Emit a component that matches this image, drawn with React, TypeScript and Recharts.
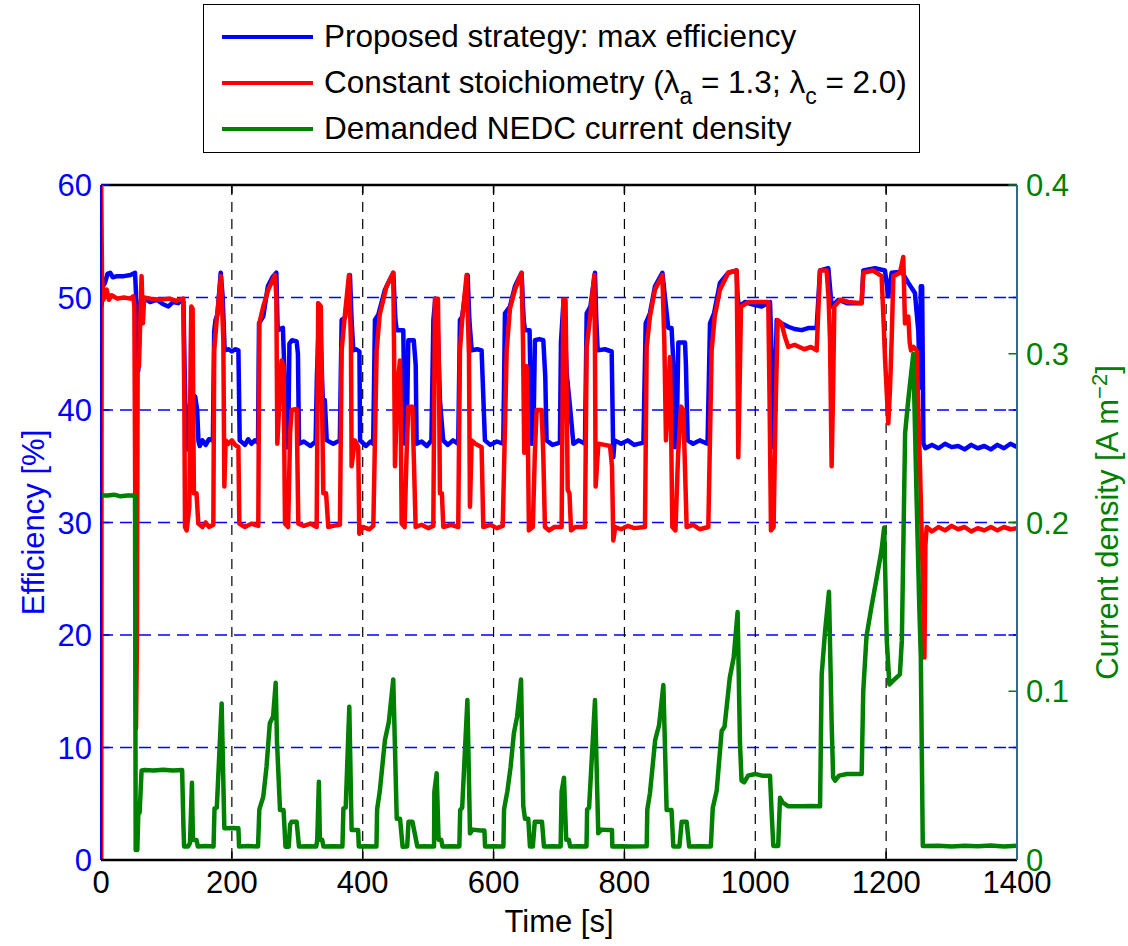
import React from 'react';
import { LineChart, Line, XAxis, YAxis, CartesianGrid, ReferenceLine, Label } from 'recharts';

const timeTicks = [0, 200, 400, 600, 800, 1000, 1200, 1400];
const timeGrid = [200, 400, 600, 800, 1000, 1200];
const efficiencyTicks = [0, 10, 20, 30, 40, 50, 60];
const efficiencyGrid = [10, 20, 30, 40, 50];
const currentTicks = [0, 0.1, 0.2, 0.3, 0.4];

const seriesNames = [
  'Proposed strategy: max efficiency',
  'Constant stoichiometry',
  'Demanded NEDC current density',
];

// [time s, efficiency %]
const proposedEfficiency: [number, number][] = [
  [0, 0], [0.5, 49], [3, 51], [6, 51.3], [10, 52.1], [14, 52.2], [18, 51.8], [25, 51.9], [35, 51.9], [45, 52.0], [52, 52.2],
  [53.5, 50.4], [55, 44], [57, 43.5], [59, 48], [61, 49.8], [67, 49.9], [75, 49.6], [85, 49.8], [95, 49.4], [103, 49.2],
  [110, 49.6], [118, 49.5], [123, 49.8], [126, 49.6], [128, 43], [130, 37], [132, 36.5], [134, 37.2], [136, 40.5], [140, 41.3],
  [144, 41.2], [147, 40], [149, 37.2], [151, 36.8], [155, 37.3], [160, 36.9], [165, 37.4], [171, 37.3], [173, 47], [175, 48],
  [178, 48.5], [183, 52.2], [186, 50], [189, 45.3], [195, 45.4], [200, 45.2], [205, 45.4], [210, 45.3], [212, 37.3], [220, 36.9],
  [225, 37.4], [230, 37], [235, 37.3], [240, 37.1], [241.5, 47.7], [248, 48.3], [255, 51], [262, 51.8], [268, 52.2], [270, 47.1],
  [278, 47.3], [280, 44], [283, 36.7], [286, 36.7], [288, 45.9], [292, 46.2], [299, 46.1], [301, 45], [302.6, 37], [310, 37.2],
  [320, 36.8], [328, 37.2], [330, 43], [333, 48], [336, 46], [339, 40.9], [342, 40.9], [345, 37.3], [355, 37], [365, 37.3],
  [367.8, 48], [373, 48.2], [380.5, 52], [383, 48], [385.6, 45.3], [390, 45.4], [395, 45.2], [396, 37.3], [405, 36.8], [412, 37.2],
  [416, 37], [418.7, 48], [424, 48.5], [434, 50.7], [446.7, 52.2], [450, 48], [452, 47.1], [462, 47.1], [464.6, 37], [467, 37],
  [469.7, 46.2], [478, 46.2], [481, 44], [482.4, 37], [490, 37.2], [498, 36.8], [505, 37.3], [508, 48], [511, 49.9], [515, 47],
  [518, 40.9], [523, 37.3], [530, 36.9], [538, 37.3], [546, 37], [548.6, 48], [552, 48.3], [560.3, 52], [563, 48], [566.5, 45.3],
  [575, 45.4], [581.7, 45.3], [586.8, 37.3], [595, 36.9], [605, 37.2], [614.8, 37], [617.4, 48.6], [625, 49.2], [632.7, 51],
  [642.8, 52.2], [646, 48], [648, 47.1], [655, 47.1], [658, 37], [661, 38], [663.2, 46.2], [670, 46.3], [676, 46.2], [679, 43],
  [681, 37.3], [690, 36.9], [701.4, 37.1], [703, 46], [707, 49.8], [710, 46], [711.7, 43.3], [716.8, 40.3], [722, 37], [730, 37.3],
  [739.7, 37], [742.3, 48.6], [748, 49.2], [755, 52.2], [757, 48], [759.1, 45.3], [770, 45.4], [780.5, 45.2], [783, 35.8],
  [785, 37.3], [795, 37], [805, 37.3], [815, 36.9], [829, 37.1], [832.5, 47.7], [839, 48.6], [846.7, 51], [858, 52.2], [862, 50],
  [867, 47.3], [872, 47.3], [875, 44], [877.3, 36.7], [880, 38], [882.4, 46], [892.6, 46], [894, 44], [896.6, 37.3], [905, 37],
  [915, 37.3], [927, 37], [930.8, 47.7], [937, 48.6], [946, 51.3], [958.8, 52.2], [971.5, 52.4], [973, 50], [975, 49.2],
  [984.3, 49.6], [995, 49.4], [1009.7, 49.2], [1022.5, 49.6], [1025, 45], [1027.6, 36.7], [1030, 40], [1032.7, 48], [1040, 47.7],
  [1050.5, 47.4], [1060, 47.2], [1071, 47.1], [1082, 47.3], [1093.8, 47.3], [1098.9, 52.4], [1111.6, 52.6], [1114, 51],
  [1116.7, 49.2], [1127, 49.8], [1140, 49.5], [1162.6, 49.5], [1165.1, 52.4], [1183, 52.6], [1198.2, 52.4], [1203.3, 50.1],
  [1208.4, 52.2], [1223.7, 52.3], [1233.9, 51.3], [1244, 50.4], [1249.2, 47], [1251.5, 42], [1253, 51], [1255, 51], [1257, 37],
  [1260, 36.6], [1270, 36.9], [1280, 36.6], [1290, 37], [1300, 36.7], [1310, 36.8], [1320, 36.5], [1330, 36.9], [1340, 36.6],
  [1350, 36.8], [1360, 36.5], [1370, 36.9], [1380, 36.6], [1390, 37], [1400, 36.7],
];

// [time s, efficiency %]
const constantStoichEfficiency: [number, number][] = [
  [0, 0], [0.3, 60], [1.5, 52], [3.6, 49.8], [8.7, 50.7], [12, 49.8], [16.3, 50.2], [25, 49.9], [35, 50], [45, 49.9], [49.4, 50.1],
  [51, 49.2], [52.5, 30], [53.5, 11.7], [55, 20], [56, 43.9], [58, 43.9], [60, 48], [62, 51.9], [64, 47.7], [66, 50], [75, 49.9],
  [90, 49.8], [105, 49.9], [115, 49.7], [125.8, 49.9], [127.4, 40.3], [128.4, 29.6], [131, 29.3], [135, 31.4], [137, 45],
  [138, 49.2], [140, 49], [141, 40], [142, 32.6], [146, 32.6], [148.7, 29.9], [155, 29.6], [160, 30], [165, 29.6], [171.7, 29.8],
  [173, 45.3], [176.8, 48], [183.4, 51.9], [187, 46.2], [188.5, 33.2], [190.5, 37.3], [194.6, 37], [200, 37.3], [205, 36.9],
  [210, 36.7], [211.4, 29.9], [220, 29.6], [230, 29.9], [240.4, 29.7], [242, 47.7], [248, 49.2], [255.7, 50.7], [266, 52],
  [268, 50], [269.5, 37], [272, 40], [276, 44.4], [279, 43.8], [281.2, 29.9], [286, 29.6], [289, 38], [291.4, 40], [299, 40.1],
  [301.6, 29.9], [310, 29.7], [320, 29.9], [329.6, 29.6], [332, 49.5], [336, 49.2], [338, 40], [339.8, 32.6], [344, 32.6],
  [347.4, 29.6], [355, 29.7], [365.2, 29.8], [367.8, 45.3], [372, 48], [379, 52], [382, 46.2], [383, 35], [388, 37.3],
  [393.2, 36.7], [394.8, 29], [400, 29.6], [410, 29.4], [416.2, 29.7], [421.3, 45.3], [426, 48.5], [436.5, 51], [446.7, 52.2],
  [448, 45], [449.3, 35], [453, 42], [456.9, 44.4], [458, 40], [459.5, 29.9], [464, 29.6], [467, 36], [469.7, 40.3], [476, 40.3],
  [478, 36], [480.9, 29.6], [490, 29.8], [500, 29.5], [507.9, 29.7], [510.4, 49.9], [515, 49.9], [517, 40], [518, 32.6],
  [521, 32.6], [523.2, 29.6], [535, 29.8], [546, 29.6], [548.6, 45.3], [552, 48], [558.8, 52], [562.4, 45], [563.9, 31.4],
  [566.5, 37.3], [572, 37], [581.7, 36.7], [584.3, 29.6], [595, 29.8], [605, 29.5], [614, 29.7], [618, 40], [620, 45.3],
  [625, 49], [632.7, 50.7], [642.8, 52.2], [645, 46], [646.9, 36.2], [650.5, 43.9], [652, 40], [654, 29.3], [660, 29.6],
  [663, 36], [665.8, 40], [673.4, 40], [676, 36], [678.5, 29.6], [685, 29.3], [693, 29.6], [704, 29.6], [706.6, 49.8],
  [710, 49.8], [712, 40], [713.3, 32.9], [716, 32.6], [718.4, 29.3], [725, 29.6], [739.7, 29.6], [742.3, 45.6], [747, 48],
  [754, 52], [755, 45], [756, 33.2], [760.1, 37], [770, 36.9], [778, 36.8], [781, 35], [783, 28.4], [786, 29.6], [795, 29.4],
  [805, 29.7], [815, 29.5], [831.4, 29.6], [834, 45.6], [839, 48.3], [846.7, 50.7], [858, 52], [861, 46], [863.5, 37.3],
  [869.6, 44.7], [871, 40], [873.2, 29.6], [878, 29.3], [882, 36], [886.5, 40.3], [890, 40], [892, 36], [895.1, 29.6], [905, 29.8],
  [915, 29.4], [928.2, 29.6], [933.3, 45.3], [938, 48.3], [946, 50.7], [958.8, 52.2], [971.5, 52.4], [972.8, 45], [974, 35.8],
  [976, 42], [978.2, 49.2], [990, 49.6], [1005, 49.6], [1019.9, 49.6], [1022, 40], [1024, 29.3], [1028, 29.6], [1031, 40],
  [1034.2, 48], [1040, 47.7], [1045.4, 46.5], [1050.5, 45.6], [1060, 45.8], [1075, 45.4], [1085, 45.6], [1093.8, 45.3],
  [1098.9, 52.4], [1109, 52.4], [1112, 50], [1114.2, 46.2], [1116.7, 35], [1119, 42], [1120.8, 49.2], [1130, 49.8],
  [1142.2, 49.6], [1162.6, 49.5], [1165.1, 52.2], [1180, 52.4], [1193.1, 51.9], [1196, 48], [1198.2, 44.7], [1203.3, 38.8],
  [1206, 42], [1208.4, 46.2], [1211, 51.9], [1221.2, 52.2], [1226.2, 53.6], [1228.8, 47.7], [1233.9, 48.3], [1236, 46],
  [1238, 45.3], [1242, 45.6], [1246.6, 45.3], [1251.7, 35], [1256, 25], [1258.5, 18], [1260, 28], [1262, 29.6], [1270, 29.2],
  [1280, 29.6], [1290, 29.3], [1300, 29.7], [1310, 29.4], [1320, 29.6], [1330, 29.2], [1340, 29.5], [1350, 29.3], [1360, 29.6],
  [1370, 29.3], [1380, 29.6], [1390, 29.4], [1400, 29.5],
];

// [time s, current density A m^-2]
const demandedCurrent: [number, number][] = [
  [0, 0.216], [10, 0.216], [20, 0.2165], [30, 0.2155], [40, 0.216], [52, 0.216], [53, 0.006], [55.5, 0.006], [57, 0.0277],
  [59, 0.028], [62, 0.053], [67, 0.0533], [80, 0.053], [95, 0.0535], [110, 0.053], [124, 0.0533], [126, 0.02], [127, 0.008],
  [133, 0.008], [136, 0.01], [139, 0.0458], [140.5, 0.012], [142, 0.0119], [146, 0.0119], [148, 0.008], [160, 0.0083],
  [172, 0.008], [173.5, 0.0306], [177, 0.031], [184.4, 0.0928], [188.5, 0.0188], [195, 0.0188], [200, 0.019], [210, 0.0188],
  [211, 0.008], [225, 0.0083], [240, 0.008], [242, 0.03], [248, 0.0375], [253, 0.0553], [258, 0.081], [263, 0.085],
  [267, 0.105], [269, 0.07], [273.6, 0.0296], [279, 0.0296], [282, 0.0079], [287, 0.0079], [289, 0.021], [291.4, 0.0227],
  [299, 0.0227], [302.6, 0.008], [315, 0.0082], [329, 0.008], [330.5, 0.012], [333, 0.0464], [334.5, 0.012], [338, 0.012],
  [340, 0.008], [355, 0.0082], [369, 0.008], [370.5, 0.0306], [374, 0.031], [379.5, 0.0908], [383, 0.0178], [390, 0.0178],
  [393, 0.0178], [394, 0.008], [405, 0.0082], [421, 0.008], [422, 0.03], [426, 0.0405], [434, 0.0711], [440, 0.082],
  [446.7, 0.107], [452, 0.0245], [457, 0.0245], [461, 0.0079], [468, 0.008], [470, 0.0227], [476, 0.0227], [483.5, 0.008],
  [495, 0.0082], [509, 0.008], [509.5, 0.0405], [513, 0.0514], [516, 0.012], [520, 0.012], [522, 0.008], [535, 0.0082],
  [547.7, 0.008], [549, 0.0296], [552, 0.031], [560, 0.0948], [564, 0.0158], [568, 0.018], [580, 0.0175], [586, 0.0175],
  [587, 0.008], [600, 0.0082], [615, 0.008], [616, 0.03], [621, 0.0405], [626, 0.055], [631, 0.075], [636, 0.085],
  [642, 0.107], [645.4, 0.032], [648, 0.0245], [653, 0.0245], [655.6, 0.008], [660, 0.008], [663, 0.0227], [674, 0.0227],
  [677, 0.008], [690, 0.0082], [702.5, 0.008], [704, 0.0405], [707.6, 0.0488], [711, 0.012], [715, 0.012], [717, 0.008],
  [730, 0.0082], [742, 0.008], [743, 0.03], [746, 0.031], [755, 0.0948], [760, 0.0158], [765, 0.018], [775, 0.0178],
  [781, 0.0178], [781.5, 0.008], [795, 0.0082], [810, 0.008], [834, 0.0082], [835, 0.03], [839, 0.0395], [847, 0.0711],
  [853, 0.08], [859.5, 0.1037], [864.5, 0.0296], [872, 0.0296], [874.7, 0.008], [884, 0.008], [887.5, 0.0227], [895, 0.0227],
  [899, 0.008], [915, 0.0082], [932, 0.008], [935, 0.0308], [941, 0.041], [948.6, 0.0764], [953, 0.079], [961, 0.108],
  [967, 0.12], [973, 0.147], [976.6, 0.0694], [979, 0.047], [983, 0.046], [989, 0.05], [1000, 0.051], [1010, 0.05],
  [1022.5, 0.05], [1025, 0.028], [1027.6, 0.0083], [1035, 0.0083], [1037.8, 0.0369], [1042, 0.034], [1050.5, 0.0318],
  [1070, 0.0318], [1085, 0.032], [1099, 0.0318], [1101.5, 0.11], [1106.5, 0.1347], [1112.6, 0.159], [1116.8, 0.0796],
  [1119, 0.049], [1122, 0.047], [1128, 0.05], [1140, 0.051], [1162.6, 0.051], [1165, 0.1], [1170, 0.1327], [1178, 0.151],
  [1185.5, 0.167], [1193, 0.1837], [1197, 0.197], [1201, 0.13], [1205, 0.104], [1210, 0.106], [1221, 0.11], [1224, 0.13],
  [1229, 0.253], [1234, 0.2733], [1241.5, 0.2999], [1246.7, 0.212], [1250.6, 0.151], [1253, 0.12], [1256, 0.0083],
  [1280, 0.0085], [1300, 0.008], [1320, 0.0085], [1340, 0.0082], [1360, 0.0086], [1380, 0.008], [1400, 0.0084],
];

const toRows = (pairs: [number, number][]) => pairs.map(([t, v]) => ({ t, v }));

const BLUE = '#0000ff';
const RED = '#ff0000';
const GREEN = '#008000';
const FONT = '"Liberation Sans", Arial, Helvetica, sans-serif';
const FS = 31;
const LEGEND_FS = 31.5;

const LegendRow = ({ color, top, children }: { color: string; top: number; children: React.ReactNode }) => (
  <>
    <div style={{ position: 'absolute', left: 18, top: top - 2, width: 91, height: 4, background: color }} />
    <div style={{ position: 'absolute', left: 120, top: top - 21, height: 40, lineHeight: '40px', fontSize: LEGEND_FS, whiteSpace: 'nowrap', color: '#000' }}>
      {children}
    </div>
  </>
);

const subStyle: React.CSSProperties = { fontSize: 23, position: 'relative', top: 11 };

export default function App() {
  const blueRows = toRows(proposedEfficiency);
  const redRows = toRows(constantStoichEfficiency);
  const greenRows = toRows(demandedCurrent);

  return (
    <div style={{ position: 'absolute', left: 0, top: 0, width: 1128, height: 946, background: '#fff', fontFamily: FONT }}>
      <LineChart width={1128} height={946} margin={{ top: 185, right: 0, bottom: 0, left: 0 }}>
        <CartesianGrid yAxisId="left" vertical={false} horizontalValues={efficiencyGrid} stroke={BLUE} strokeDasharray="12 7" strokeWidth={1.3} />
        <CartesianGrid yAxisId="left" horizontal={false} verticalValues={timeGrid} stroke="#000" strokeDasharray="10 7" strokeWidth={1.2} />
        <XAxis
          type="number"
          dataKey="t"
          domain={[0, 1400]}
          ticks={timeTicks}
          height={86}
          tickSize={0}
          tickMargin={11}
          tickLine={false}
          axisLine={{ stroke: '#000', strokeWidth: 2.5 }}
          tick={{ fill: '#000', fontSize: FS }}
          allowDataOverflow
        >
          <Label
            content={(p: any) => {
              const vb = p.viewBox || { x: 101, y: 860, width: 916, height: 86 };
              const cx = vb.x + vb.width / 2;
              return (
                <text x={cx} y={vb.y + 72} textAnchor="middle" fill="#000" fontSize={FS}>
                  Time [s]
                </text>
              );
            }}
          />
        </XAxis>
        <YAxis
          yAxisId="left"
          type="number"
          domain={[0, 60]}
          ticks={efficiencyTicks}
          width={101}
          tickSize={0}
          tickMargin={9}
          tickLine={false}
          axisLine={{ stroke: BLUE, strokeWidth: 2 }}
          tick={{ fill: BLUE, fontSize: FS }}
          allowDataOverflow
        >
          <Label
            content={(p: any) => {
              const vb = p.viewBox || { x: 0, y: 185, width: 101, height: 675 };
              const cx = vb.x + 44;
              const cy = vb.y + vb.height / 2;
              return (
                <text x={cx} y={cy} transform={`rotate(-90 ${cx} ${cy})`} textAnchor="middle" fill={BLUE} fontSize={FS}>
                  Efficiency [%]
                </text>
              );
            }}
          />
        </YAxis>
        <YAxis
          yAxisId="right"
          orientation="right"
          type="number"
          domain={[0, 0.4]}
          ticks={currentTicks}
          width={111}
          tickSize={0}
          tickMargin={9}
          tickLine={false}
          axisLine={{ stroke: '#2e6a8a', strokeWidth: 2 }}
          tick={{ fill: GREEN, fontSize: FS }}
          allowDataOverflow
        >
          <Label
            content={(p: any) => {
              const vb = p.viewBox || { x: 1017, y: 185, width: 111, height: 675 };
              const cx = vb.x + 101;
              const cy = vb.y + vb.height / 2;
              return (
                <text x={cx} y={cy} transform={`rotate(-90 ${cx} ${cy})`} textAnchor="middle" fill={GREEN} fontSize={FS}>
                  Current density [A m
                  <tspan dy={-11} fontSize={22}>−2</tspan>
                  <tspan dy={11}>]</tspan>
                </text>
              );
            }}
          />
        </YAxis>

        <ReferenceLine yAxisId="left" y={60} stroke="#000" strokeWidth={2.5} />

        {timeTicks.map((t) => (
          <ReferenceLine key={`bt${t}`} yAxisId="left" segment={[{ x: t, y: 0 }, { x: t, y: 0.75 }]} stroke="#000" strokeWidth={1.5} />
        ))}
        {timeTicks.map((t) => (
          <ReferenceLine key={`tt${t}`} yAxisId="left" segment={[{ x: t, y: 60 }, { x: t, y: 59.25 }]} stroke="#000" strokeWidth={1.5} />
        ))}
        {efficiencyTicks.map((v) => (
          <ReferenceLine key={`lt${v}`} yAxisId="left" segment={[{ x: 0, y: v }, { x: 13, y: v }]} stroke={BLUE} strokeWidth={1.5} />
        ))}
        {efficiencyTicks.map((v) => (
          <ReferenceLine key={`rt${v}`} yAxisId="left" segment={[{ x: 1400, y: v }, { x: 1387, y: v }]} stroke={BLUE} strokeWidth={1.5} />
        ))}
        {currentTicks.map((v) => (
          <ReferenceLine key={`gt${v}`} yAxisId="right" segment={[{ x: 1400, y: v }, { x: 1387, y: v }]} stroke={GREEN} strokeWidth={1.5} />
        ))}

        <Line
          name={seriesNames[0]}
          data={blueRows}
          dataKey="v"
          yAxisId="left"
          type="linear"
          stroke={BLUE}
          strokeWidth={4.5}
          strokeLinejoin="round"
          dot={false}
          activeDot={false}
          isAnimationActive={false}
        />
        <Line
          name={seriesNames[1]}
          data={redRows}
          dataKey="v"
          yAxisId="left"
          type="linear"
          stroke={RED}
          strokeWidth={4.5}
          strokeLinejoin="round"
          dot={false}
          activeDot={false}
          isAnimationActive={false}
        />
        <Line
          name={seriesNames[2]}
          data={greenRows}
          dataKey="v"
          yAxisId="right"
          type="linear"
          stroke={GREEN}
          strokeWidth={4.5}
          strokeLinejoin="round"
          dot={false}
          activeDot={false}
          isAnimationActive={false}
        />
      </LineChart>

      <div
        style={{
          position: 'absolute',
          left: 203,
          top: 4,
          width: 717,
          height: 149,
          border: '1.5px solid #000',
          boxSizing: 'border-box',
          background: '#fff',
        }}
      >
        <LegendRow color={BLUE} top={32}>{seriesNames[0]}</LegendRow>
        <LegendRow color={RED} top={78}>
          {seriesNames[1]} (λ<span style={subStyle}>a</span> = 1.3; λ<span style={subStyle}>c</span> = 2.0)
        </LegendRow>
        <LegendRow color={GREEN} top={124}>{seriesNames[2]}</LegendRow>
      </div>
    </div>
  );
}
